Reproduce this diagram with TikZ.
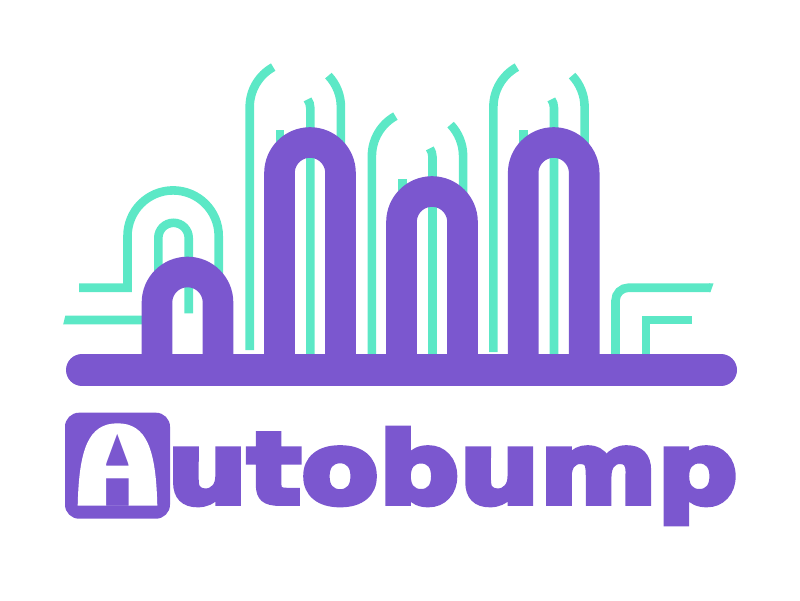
\documentclass[tikz,border=0pt]{standalone}
\usepackage{fontspec}
\setmainfont{DejaVu Sans}
\newfontfamily\wordfont{DejaVu Sans}[BoldFeatures={FakeBold=6,FakeStretch=1.15}]
\definecolor{bumppurple}{RGB}{123,87,207}
\definecolor{stalkmint}{RGB}{92,232,198}

\begin{document}
\begin{tikzpicture}[
    x=1pt, y=1pt, yscale=-1,
    stalk/.style={draw=stalkmint, line width=8.6pt},
    bump/.style={draw=bumppurple, line width=30.6pt},
    badge/.style={fill=bumppurple, rounded corners=14pt, minimum width=105pt, minimum height=106pt, inner sep=0pt},
    word/.style={inner sep=0pt, text=bumppurple, font=\wordfont\fontsize{98}{98}\selectfont\bfseries},
    letter/.style={inner sep=0pt, text=white, font=\fontsize{100}{100}\selectfont}
]
\useasboundingbox (0,0) rectangle (800,600);

% Left stalks
\draw[stalk] (79,287.7) -- (127.5,287.7) -- (127.5,236) arc[start angle=180,end angle=360,radius=45.6] -- (218.7,300);
\draw[stalk] (158.3,290) -- (158.3,238) arc[start angle=180,end angle=360,radius=15.2] -- (188.7,313.3);
\fill[stalkmint] (65.3,315.7) -- (150,315.7) -- (150,324.3) -- (63.2,324.3) -- cycle;

% Tall stalks behind the bumps
\foreach \cx/\cy/\foot in {295.3/107/350, 417.5/156/360, 539/107/352} {
    \draw[stalk] (\cx-45.6,\foot) -- (\cx-45.6,\cy) arc[start angle=180,end angle=241,radius=45.6];
    \draw[stalk] (\cx+45.6,\cy+60) -- (\cx+45.6,\cy) arc[start angle=0,end angle=-43.5,radius=45.6];
    \draw[stalk] (\cx-15.3,\cy+23) -- (\cx-15.3,\cy+60);
    \draw[stalk] (\cx+15,360) -- (\cx+15,\cy+1) arc[start angle=0,end angle=-35,radius=15];
}

% Right stalks
\draw[stalk,rounded corners=13pt] (615.5,360) -- (615.5,287.7) -- (710,287.7);
\fill[stalkmint] (709,283.4) -- (713.5,283.4) -- (710.5,292) -- (709,292) -- cycle;
\draw[stalk] (646,360) -- (646,320) -- (691.7,320);

% Bumps
\foreach \cx/\cy in {187.5/302.5, 310/173, 432/222, 553.7/173} {
    \draw[bump] (\cx-30.5,370) -- (\cx-30.5,\cy) arc[start angle=180,end angle=360,radius=30.5] -- (\cx+30.5,370);
}

% Base bar
\draw[draw=bumppurple, line width=32pt, line cap=round] (82,370) -- (721,370);

% Logo letter
\node[badge] (badge) at (117.5,465.7) {};
\fill[white,even odd rule] (77.7,505.7) .. controls (79,450) and (88,423.3) .. (117.5,423.3) .. controls (147,423.3) and (156,450) .. (157.3,505.7) -- cycle
    (106,465.7) -- (106,450) .. controls (106,438) and (110,432) .. (117.3,432) .. controls (124.6,432) and (128.7,438) .. (128.7,450) -- (128.7,465.7) -- cycle
    (106,505.7) -- (106,477.7) -- (128.7,477.7) -- (128.7,505.7) -- cycle;
\node[letter,anchor=base] (letterA) at (117.5,497.7) {A};

% Word
\node[word,anchor=base west] (wordmark) at (167,503) {utobump};

\end{tikzpicture}
\end{document}
